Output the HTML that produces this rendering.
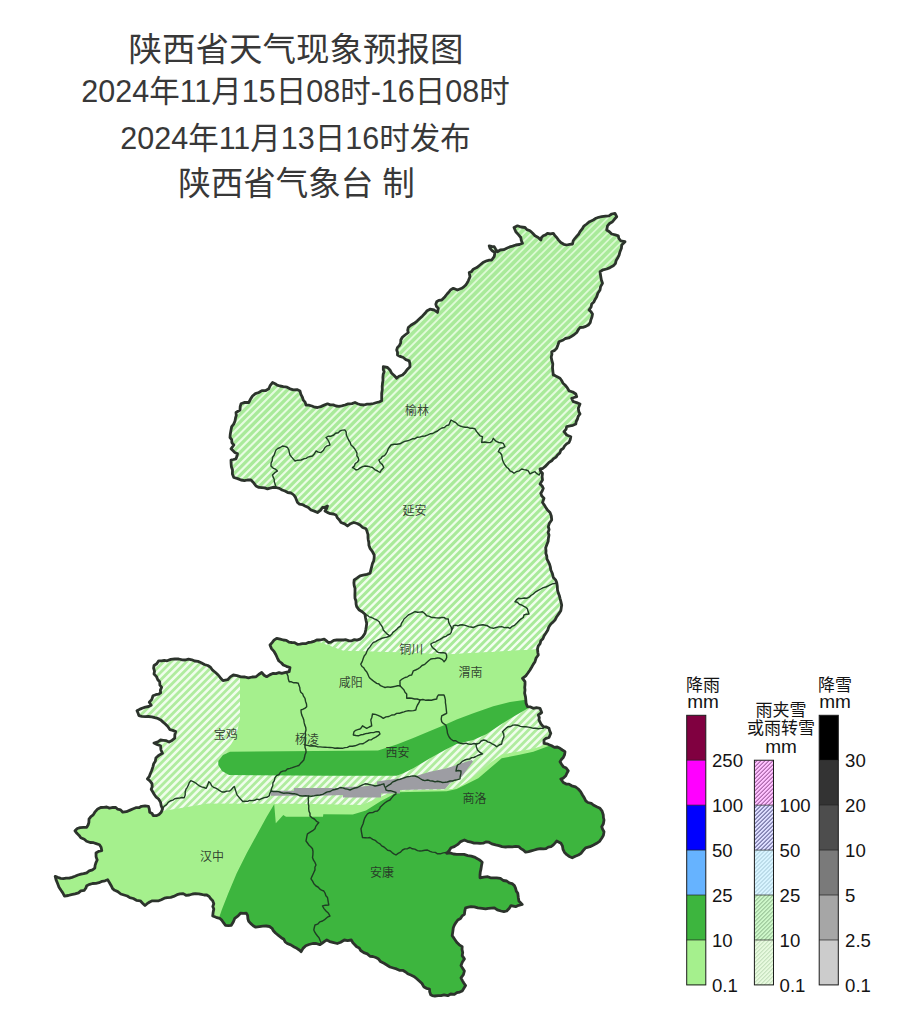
<!DOCTYPE html>
<html lang="zh"><head><meta charset="utf-8"><title>陕西省天气现象预报图</title>
<style>html,body{margin:0;padding:0;background:#fff}body{width:900px;height:1020px;overflow:hidden;font-family:"Liberation Sans","Noto Sans CJK SC",sans-serif}svg{display:block}text{font-family:"Liberation Sans","Noto Sans CJK SC",sans-serif;fill:#111}</style></head><body>
<svg width="900" height="1020" viewBox="0 0 900 1020">
<rect width="900" height="1020" fill="#fff"/>
<defs><clipPath id="prov"><path d="M408.3 327.5 L410.9 325.3 L414.2 323.3 L417.1 321.1 L420 318.3 L422.5 315.9 L425 313.3 L427.1 310.7 L430 309.2 L434.2 310 L437.5 312.5 L438.3 308.3 L436.5 306.6 L435.8 304.2 L436.7 301.7 L438.8 300.3 L441.7 300 L445 296.7 L447.1 294 L449.2 291.7 L450.8 289.7 L453.3 288.3 L457.5 290 L461.7 288.3 L464.1 286.6 L465.8 285 L467.1 283 L468.3 280.8 L470 276.7 L469.2 272.5 L471.5 271.6 L473.3 269.2 L476.8 267.6 L480 265 L482.9 262.6 L486.7 260.8 L489.3 260.1 L491.7 260 L494.2 256.7 L495 252.5 L492.2 250.7 L490 248.3 L489.2 245.8 L491.6 246.4 L494.2 246.7 L495.6 249 L497.5 251.7 L500.2 250 L503.7 249.7 L506.7 248.3 L509.7 246.9 L512.6 246.1 L515.8 245 L519.4 244.5 L522.5 243.3 L521.3 240.5 L520.8 237.5 L518.2 234.4 L515.8 231.7 L514 227.5 L517.5 225.8 L521 227 L525 227.5 L526.9 229.6 L530 230.8 L532.7 233.3 L535 235.8 L538.2 237.5 L540.8 240 L541.5 237.5 L543.3 235.8 L545.6 234.9 L547.5 233.3 L550.3 233.9 L553.3 233.3 L554.8 235.6 L556.7 237.5 L558.6 240.1 L560.8 242.5 L563.8 244.3 L566.7 245 L569.7 244.4 L572.5 244 L573.2 240.8 L575 238.3 L577 236 L578.6 234.3 L580 231.7 L582.2 228.9 L583.9 226.1 L586.7 224 L589.5 221.7 L593.3 220 L596 218.2 L598.6 217.3 L601.7 216.7 L605.6 216.1 L609 215.8 L611.7 214 L615 213.3 L616.7 216.7 L614.4 219.3 L612.5 221.7 L609.5 223.5 L607.5 225.8 L606.7 230 L609.4 231.7 L611.7 234 L615.3 234.8 L618.3 235.8 L618.8 238.4 L620.8 240.8 L625 241.7 L621.7 245 L621.4 248.3 L620 251.7 L619.1 255.1 L617.5 258.3 L616.1 260.6 L615.4 263.6 L613.3 265.8 L610 267.6 L606.7 269 L603 269.8 L600 271.7 L600.4 274.3 L600.8 276.7 L601.3 279.8 L602.5 283.3 L600.6 286.6 L600 290 L597.8 293.3 L596.7 296.7 L595.2 299.2 L593.8 302 L591.7 304 L591.1 307 L589 310 L590.9 311.6 L592.5 314 L592 316.8 L590.8 320 L590.3 322.6 L588.3 325 L585.8 326.4 L582.8 327.4 L580 327.5 L578.3 329.7 L576.7 332.5 L574 334.8 L570.8 336.7 L568.6 337.9 L565.3 338.5 L563.3 340 L559 341.7 L557.9 345 L556.7 348.3 L554.7 350.4 L551.7 351.7 L551.9 354.3 L551.2 357 L551.7 360 L552.8 363.9 L552.5 367.5 L552.8 371 L553.3 375 L554 375 L556.7 376.6 L560 378.3 L561.8 380.8 L563 383.2 L565 385 L567.2 387.6 L569 390.8 L572.8 392 L575.8 394 L576.7 396.7 L574 397.5 L571.7 398.3 L573.3 401.7 L576.6 402.6 L580 404 L578.3 408.3 L578.8 411.6 L580 414 L578.2 416.4 L577.5 419 L576.2 421.5 L575.8 424 L572.9 425.3 L570.1 425.9 L566.7 426.7 L566 429.4 L564 431.7 L566.7 435 L570.8 436.7 L570.2 439.8 L569 442.5 L566.6 443.9 L564.5 446.1 L563.3 448.3 L560.9 450 L559.9 452.9 L557.5 455 L556 457.1 L553.3 458.9 L551.7 460.8 L549.1 462.4 L546.9 464.7 L545 466.7 L542.7 468.5 L540 469 L540.8 471.6 L542.5 473.3 L542.1 476.6 L542.5 480 L540 484 L542.1 486 L543.3 488.3 L542.2 491.1 L540.8 493.3 L541.8 496.1 L544 498.3 L542.5 502.5 L544.4 505.1 L545.8 507.5 L547.5 510.1 L550 512.5 L551.3 515.9 L551.7 520 L549.4 523.2 L548.3 526.7 L549.1 529.6 L548.1 532.4 L549 535 L548.4 538.4 L548.1 541.5 L546.7 545 L545.7 547.8 L546 550.8 L545.8 553.3 L546.8 556.3 L546.9 558.9 L548.3 561.7 L549.5 564.2 L550.4 567.2 L550.8 570 L552.4 573.6 L553.3 577.5 L555.6 579.9 L556.7 582.5 L557.3 586.2 L557.5 590 L558.3 593 L559.4 595.7 L560 598.3 L560.9 601.7 L561.7 605 L561.3 607.6 L560.8 610.8 L558.9 613.6 L556.7 616.7 L555.2 619.7 L553.2 621.9 L550.8 624 L548.8 627 L547.7 630.3 L545.8 633.3 L544 635.9 L542.9 638.7 L540.8 640.8 L540.1 643.6 L538.2 646.1 L537.5 649 L537.8 652.2 L538.3 655 L536.1 658 L535 661.7 L533.2 664.4 L531.6 667.3 L530 670 L527.9 673 L525.8 675.8 L522.5 678.3 L525 681.7 L525 684.7 L524.7 687.5 L525 690 L524.6 693.2 L525.5 696.9 L525.8 700 L526.1 703.3 L527.5 706.7 L530.5 706.9 L533.3 708.3 L536.5 707.7 L540 708.3 L541.7 712.5 L538.3 715 L539.3 717.5 L539 720 L540.9 723.8 L543.3 726.7 L546.4 727 L549 728.3 L549.6 730.7 L550.8 733.3 L549 737.5 L546 738.4 L544 740 L544 743.3 L547 743.8 L549.2 744.8 L551.7 745.8 L554.4 747.4 L557.3 747 L560 748.3 L562.4 750 L565 751.7 L564.6 754.6 L563.3 757.5 L561.6 759.2 L560 761.7 L561.6 764.2 L563.3 766.7 L566.2 768.1 L568.3 770.8 L566.9 773.2 L565.8 775.8 L563.4 778.1 L560.8 779 L563.3 782.5 L566.2 784.1 L569 784.1 L571.7 785.8 L575.5 786.9 L578.3 789 L580.6 791.6 L582.5 795 L584.4 798.1 L585.8 800.8 L587.9 802.5 L591.3 803.3 L593.3 805 L596.7 806.8 L600 808.3 L602.1 811.1 L603.3 815 L603.4 817.5 L604 820 L603.4 823.8 L601.7 826.7 L602.7 829.4 L604 831.7 L603.4 835.4 L601.7 838.3 L599.5 841.4 L596.7 843.3 L593.5 845 L590 846.7 L585.6 847.8 L583.1 850.7 L581 853.3 L578.4 855 L575.3 856.2 L572.2 857.8 L569.4 856.5 L566.8 854.7 L564.4 852.2 L563 849.4 L562.5 846.2 L561 843.3 L559 842.2 L556.7 841 L555.2 842.9 L553.4 844.9 L551 846.7 L548.3 847.1 L546 848.6 L543.3 848.9 L540.5 848.6 L537.3 849.2 L534.4 850 L531.3 850.8 L528.6 851.6 L525.6 852.2 L523.3 850 L520.8 848.6 L518.9 846.7 L515.5 846.4 L512.3 846.8 L508.9 846.7 L505.7 847 L502 846.6 L498.9 845.6 L495.6 844.9 L491.8 843.9 L488.9 842.2 L485.8 842 L483.2 843.2 L480 843.3 L477 843.2 L474 843.1 L471 842.2 L467.3 841.3 L464.4 840 L460.7 841.6 L457.8 844.4 L454.3 846.6 L451 847.8 L449.1 850.7 L446.7 853.3 L450 852.9 L453.4 854 L456.7 854.4 L460.5 854.4 L464 854.4 L467.8 855.6 L471.3 856.1 L474.4 857.1 L477.8 858.9 L480 860.2 L482.2 862.2 L481.5 865.5 L481 868.9 L480.3 871.9 L480 875 L480 877.8 L483.8 877.1 L487.8 876.7 L490.5 877.8 L493.8 877.8 L496.7 877.8 L500.4 878.3 L503.3 880.5 L506.7 881 L509.2 882.9 L512.1 883.6 L514.4 885.6 L515.6 888.4 L516.3 891.1 L517.8 893.3 L518.3 897.4 L518.9 901 L522.2 904.4 L518.7 905.3 L515.6 906.7 L511 905.6 L509.3 908.3 L506.7 911 L503.9 911.6 L501 911 L497.3 909.8 L494.4 907.8 L491.4 908.1 L488.4 908.4 L485.6 908.9 L482 908.4 L477.8 907.8 L474.3 906.8 L471 906.7 L468.3 907.2 L465.6 907.8 L464.8 910.8 L464.4 914.4 L462.1 915.9 L460.5 918.5 L457.8 920 L456.1 922.3 L454.3 925.3 L453.3 927.8 L452.8 931.6 L452.2 935.6 L454.5 939 L456.7 942.2 L459.3 944.8 L462.2 946.7 L462 949.4 L462.7 952.5 L462.2 955.6 L464.4 958.9 L462.4 962 L461 965.6 L462.5 968.1 L464.4 971 L463.4 974.6 L461 977.8 L462.4 980.6 L463.8 983 L465.6 985.6 L463.9 988.3 L462.2 991 L459.8 992.1 L456.9 992.7 L454.4 994.4 L450.7 994 L447.8 995.7 L444 994.8 L441 995.6 L438.2 995.7 L434.9 996 L432.2 995.6 L430.7 994.8 L429.7 991.9 L429.5 989 L426.4 988.3 L423.7 986.7 L422 983.5 L419 980.8 L416.5 978.5 L413.8 976.4 L410.8 975 L407.7 973.7 L405.6 972 L402.7 970.3 L399.4 970.3 L396.5 968.9 L393.3 968 L390 967 L386.8 965 L384 963.3 L380.5 961.5 L378.2 958.7 L375.8 957.5 L372.8 956.5 L370 956.3 L367.3 953.9 L363.8 952.6 L360.7 950.5 L359.2 948 L356.7 946.8 L354.8 944.7 L352.9 942.8 L351.3 940 L347.6 940.6 L344.3 940 L340.7 942.2 L337.3 943.5 L332.7 942.3 L329.7 941.6 L326.8 940 L324.6 941.4 L322 943.4 L319.8 944.7 L316.2 943.5 L312.8 943.5 L309 944.5 L305.8 945.8 L303 948.4 L301.2 951.7 L299.3 950 L296.8 948.3 L294.2 947 L290.8 944.9 L287.2 943.5 L285.2 942 L283.9 939.3 L281.3 937.7 L278.4 935.4 L275.5 933 L273.4 930.7 L272 928.3 L269.5 926.5 L266.2 926 L262.8 926.2 L259.3 926.7 L255.7 927.2 L253.2 925.7 L250.6 923.4 L248.7 921.3 L247.9 918.8 L247.6 915.4 L246.3 913.2 L243.6 913.3 L240.5 913.2 L238.1 915.9 L234.8 918.3 L233.4 921.7 L231.3 925.3 L228.5 925.7 L225.5 925.3 L223.5 922.7 L222 920.4 L219.7 918.3 L216.1 917.3 L212.7 916 L213.1 912.6 L213.8 909 L212.8 906.5 L213.8 903.7 L212.7 900.8 L210.7 898.8 L209.3 896.7 L206.8 895 L204.2 895 L201.4 894.4 L198.7 893.8 L195.3 893.6 L192.6 894 L189.3 895 L186 895.3 L183.2 893.6 L180 893.8 L177.1 894.7 L173.6 896.4 L170.7 897.3 L167.2 897.7 L164.4 898.2 L161.3 899.7 L158.7 900.8 L155.4 900.8 L152.3 900.8 L149.7 902 L147.1 903.7 L145 905.5 L142.6 903.2 L140.3 900.8 L136.4 900.3 L133.3 898.5 L129.8 897.6 L127.3 896 L124 895 L120.8 894 L117.8 891.6 L114.7 890.3 L112.6 888.6 L111.2 885.7 L109.5 882.7 L107.7 879.8 L105 880.8 L102.1 881.3 L99 882.7 L96 883.3 L92.6 883.5 L89.7 884.3 L86.7 885.7 L85.9 888 L84.3 890.3 L80.8 890.9 L78.5 892.8 L75 893.8 L71.4 894.6 L68.2 895.5 L64.5 896.2 L62.8 892.9 L61 890.3 L59 887.2 L57.5 883.3 L56.1 879.9 L55.2 876.3 L57.6 877.3 L60.6 878.4 L63.3 878.7 L66.1 878.1 L69.2 878.2 L72 877.4 L75 876.3 L78 875 L81 874.2 L83.6 873.7 L86.7 872.8 L89.2 870.9 L92.5 869.8 L94.8 868.2 L95.1 865.4 L96.1 862.3 L97.2 860 L96.1 856.9 L96 853 L98.6 851.3 L101.8 850.7 L101.1 847.3 L99.5 844.8 L96.2 843.6 L93.6 842.7 L90.2 842.5 L86.6 841.2 L84.3 839.2 L80.8 837.8 L79.1 835.4 L76.9 833.3 L75 830.8 L77.3 828.5 L80.1 827.6 L83.4 827.4 L86.7 827.3 L88.1 825 L88.9 822.3 L89 819.2 L90.9 816.6 L93.2 814.9 L94.8 812.2 L97.3 809.3 L100.7 807.5 L104 807.3 L106.7 807 L109.5 808.1 L113 807.4 L115.8 807.5 L117.7 809.2 L120.6 809.9 L122.8 812.2 L126.4 811.7 L130.1 810.1 L133.3 808.7 L135.8 807.7 L139 807.7 L141.5 806.3 L145.1 805.9 L148.5 806.3 L149.3 809.1 L149.7 812.2 L152.1 813.5 L153.2 815.7 L156.3 815.7 L159 814.5 L161.2 812.3 L162.5 809 L161.2 805.8 L160.6 802.4 L158.6 799 L155.9 796.8 L154.3 794.5 L152.7 791.8 L151.2 789.2 L152.2 786.7 L152 783.6 L149.9 780.8 L147.4 778.8 L149.3 776.5 L150.2 774 L151.7 770.5 L153 766.6 L153.7 763.7 L155.3 761.2 L155.9 758 L158 756 L159.9 754.7 L162.5 753.3 L160.9 749.7 L160.6 745.8 L156.9 744.5 L154 743 L157.8 741.9 L160.6 740 L163.2 740.3 L166.3 740.7 L169 742 L172 740.4 L174.8 738.2 L174.8 734.9 L175.7 731.6 L172.8 730.4 L170 729.7 L167.8 726.5 L165.3 724 L163.1 722.1 L160.7 719.9 L157.8 718.4 L154.7 717.7 L151.7 716.8 L148.3 716.5 L145.3 716.6 L141.8 716.4 L138.9 715.6 L138.1 713.3 L137 710.8 L140 709.1 L142.7 708 L145.4 707.1 L148.6 706.5 L151.2 705.2 L149.3 702.3 L151.7 699.6 L153 695.7 L155.7 694.7 L158.5 694.2 L160.6 692.9 L160.4 690.1 L161.6 687.2 L159.9 685.1 L159.7 681.8 L157.8 679.7 L156.5 676.6 L154 674 L154.5 671.2 L153.6 668.2 L154 665.5 L156.7 663.8 L158.7 660.8 L161.6 660.9 L164.3 660.4 L167.2 660.8 L170.7 659.4 L174.8 658.9 L178.7 659 L182.3 659.8 L185.3 660 L188.5 659.1 L191.8 659.8 L194.7 661 L198 661.4 L201.2 662.7 L204.4 664.5 L207.8 665.5 L210.5 667.2 L212.6 670.2 L215.5 672.5 L218.2 675 L220.3 677.7 L223 680.6 L227.7 679.7 L230.3 676.9 L233.3 675 L237 675.7 L240.9 676.8 L245 677 L248.4 677.8 L252.2 677 L256 676.8 L258.7 674.5 L261.7 672.5 L264.1 675.2 L266.7 676.7 L269.7 674.9 L273.3 673.3 L275.9 673.6 L279.1 672.6 L281.7 673.3 L285.6 672.3 L289.2 671.7 L290 667.5 L286.4 666.3 L283.3 665 L281.5 663 L278.9 661 L277.5 658.3 L275.9 654.7 L274.2 651.7 L271.5 648.6 L270 645 L272.1 642.6 L274 640.2 L276.7 638.3 L280.2 639.2 L283.3 640 L286.3 640.3 L289 642.2 L291.7 642.5 L294.3 642.6 L297.4 644.3 L300 644.2 L302.5 643.7 L305.6 643.7 L308.3 642.5 L311.3 642.2 L313.8 641.4 L316.7 640 L320.3 640 L324.2 639.2 L326.5 640.9 L328.3 642.5 L331.1 642.2 L333.7 640.4 L336.7 640 L339.9 640 L343.3 640 L346 639.7 L349.1 640.9 L351.7 640.8 L354.4 639.6 L357 640.2 L360 639.2 L362.7 636.8 L365 633.3 L365.7 630 L366.3 626.8 L366.7 623.3 L366 620.2 L365.4 617.2 L365 614.2 L362.2 611.8 L358.9 609.7 L356.7 606.7 L356.1 604.1 L355.9 600.9 L355 598.3 L354.9 595.2 L355 591.9 L355 588.3 L354.2 585.6 L353.9 582.9 L354.2 580 L356.9 578.1 L360 575.8 L363.1 575.2 L366.9 574.4 L370 573.3 L370.8 570.2 L371.7 566.7 L372.5 563.3 L373.7 560.9 L374.2 557.6 L374.2 555 L372.3 551.3 L370 548.3 L368.9 545.3 L368.8 542.5 L368.3 540 L368 537.5 L368 534.6 L367 531.3 L366 528.8 L362.7 527.5 L360 525 L357.2 523.5 L353.8 522.5 L350.5 523.7 L347.5 526 L344.7 523.9 L341 522.5 L339.2 519.8 L337.4 517.9 L336 515 L333.4 514 L330.4 513.7 L327.3 512.4 L325 511 L326.6 508.4 L327.5 506 L325 507.3 L322.5 507.5 L320.4 510.4 L317.5 512.5 L314.4 511.1 L311 510 L308.3 507.5 L305 506 L302.3 504.6 L299.5 504.1 L297.5 502.5 L296.5 500 L295.5 497.4 L293.8 495 L291.1 493 L287.7 492.5 L285 491 L282.1 490 L279.4 488.4 L276 487.5 L273.2 487.4 L270 488.2 L267.5 488.8 L264.6 487.9 L262 487.7 L258.9 487.4 L256 486 L253.7 482.9 L251 480 L247.4 480 L244.5 480.6 L241 480 L237.7 478.6 L233.8 477.5 L232.4 474 L232.5 470 L231.4 466.8 L231.1 463.3 L231 460 L233.4 459.5 L236 458.8 L236.9 456.3 L237.5 453.8 L234.8 452.4 L233.1 450.8 L231 448.8 L233.8 445 L231.9 442.7 L231.7 439.6 L230 437.5 L230.3 433.9 L231 430 L231.7 426.6 L233.7 424.1 L235 421 L235.5 418.2 L236.3 415.3 L236 412.5 L240 410 L240.2 406.6 L241 403.8 L244.8 402.4 L248.8 402.5 L250.4 399.3 L252.5 396 L255.4 393.6 L258.8 392.5 L261.9 390.6 L265.4 390.7 L268.8 388.8 L270.3 385.3 L272.5 382.5 L275.1 383.7 L277.1 385.2 L280 386 L283.3 386.6 L287.1 387.2 L290 388.8 L293.4 389.9 L297 389.6 L300 391 L300.9 394.4 L302.5 397.5 L303.3 400.1 L305.1 402.1 L306 405 L308.7 405.2 L311.9 406 L314.8 407.2 L317.5 407.5 L320.8 406.6 L324.2 405.1 L327.5 403.8 L330.2 404.9 L333.3 404.9 L336 406 L338.9 406.4 L341.8 405.9 L345 405 L348.1 403.9 L352 403.6 L355 402.5 L357.7 403.7 L360.6 404.7 L363.8 405 L367.1 404.2 L370 404.2 L373.5 403.5 L376.7 402.5 L379.6 401.8 L381.7 400.8 L381.7 396.8 L381.7 393.3 L382.3 389.8 L382.2 386.5 L382.5 383.3 L383 380.5 L382.9 377.4 L383.2 374.3 L384.2 371.7 L383.3 369.6 L383.3 366.7 L387.5 367.5 L390.2 370.3 L391.7 373.3 L394.2 375.5 L396.7 378.3 L399 376.2 L402.5 375 L405.3 372.2 L407.5 369.2 L410 366.7 L409.9 363.6 L409.2 360.8 L405.9 359.7 L403.3 357.5 L400.1 356.4 L397.5 355 L397.5 352.2 L396.7 350 L397.5 347.4 L399.2 345.8 L400.7 342.8 L400.8 340 L402.3 337.3 L405 335 L408.3 332.5 L407.7 330.3Z"/></clipPath>
<clipPath id="h2"><path d="M100 640 L240 640 L240 718 L236.5 735 L229 748 L223 760 L400 760 L440 745 L486.7 728 L540 700 L560 735 L546.7 744.3 L533.3 748.8 L518.3 751.5 L501.7 754.5 L490 763 L478.3 773 L463 784.5 L456 788.5 L446.7 789.5 L400 790.5 L394 791 L381 796.4 L362 805 L300 803.8 L208 803.5 L163 811 L160 804.5 L100 804.5Z"/></clipPath>
<clipPath id="north"><path d="M200 200 L660 200 L660 642 L536 649.5 L447 654.5 L400 652.5 L343 650.8 L316 641 L240 600 L200 600Z"/></clipPath>
<linearGradient id="sg" gradientUnits="userSpaceOnUse" x1="0" y1="220" x2="0" y2="655"><stop offset="0" stop-color="#d9f9d0"/><stop offset="0.5" stop-color="#e8fce2"/><stop offset="1" stop-color="#f4fff1"/></linearGradient>
</defs>
<g clip-path="url(#prov)">
<rect x="40" y="200" width="620" height="810" fill="#a9ea9a"/>
<g clip-path="url(#north)"><path fill="url(#sg)" d="M198.81 200 L201.19 200 L-258.24 660 L-261.76 660ZM206.41 200 L208.79 200 L-250.64 660 L-254.16 660ZM214.01 200 L216.39 200 L-243.04 660 L-246.56 660ZM221.61 200 L223.99 200 L-235.44 660 L-238.96 660ZM229.21 200 L231.59 200 L-227.84 660 L-231.36 660ZM236.81 200 L239.19 200 L-220.24 660 L-223.76 660ZM244.41 200 L246.79 200 L-212.64 660 L-216.16 660ZM252.01 200 L254.39 200 L-205.04 660 L-208.56 660ZM259.61 200 L261.99 200 L-197.44 660 L-200.96 660ZM267.21 200 L269.59 200 L-189.84 660 L-193.36 660ZM274.81 200 L277.19 200 L-182.24 660 L-185.76 660ZM282.41 200 L284.79 200 L-174.64 660 L-178.16 660ZM290.01 200 L292.39 200 L-167.04 660 L-170.56 660ZM297.61 200 L299.99 200 L-159.44 660 L-162.96 660ZM305.21 200 L307.59 200 L-151.84 660 L-155.36 660ZM312.81 200 L315.19 200 L-144.24 660 L-147.76 660ZM320.41 200 L322.79 200 L-136.64 660 L-140.16 660ZM328.01 200 L330.39 200 L-129.04 660 L-132.56 660ZM335.61 200 L337.99 200 L-121.44 660 L-124.96 660ZM343.21 200 L345.59 200 L-113.84 660 L-117.36 660ZM350.81 200 L353.19 200 L-106.24 660 L-109.76 660ZM358.41 200 L360.79 200 L-98.64 660 L-102.16 660ZM366.01 200 L368.39 200 L-91.04 660 L-94.56 660ZM373.61 200 L375.99 200 L-83.44 660 L-86.96 660ZM381.21 200 L383.59 200 L-75.84 660 L-79.36 660ZM388.81 200 L391.19 200 L-68.24 660 L-71.76 660ZM396.41 200 L398.79 200 L-60.64 660 L-64.16 660ZM404.01 200 L406.39 200 L-53.04 660 L-56.56 660ZM411.61 200 L413.99 200 L-45.44 660 L-48.96 660ZM419.21 200 L421.59 200 L-37.84 660 L-41.36 660ZM426.81 200 L429.19 200 L-30.24 660 L-33.76 660ZM434.41 200 L436.79 200 L-22.64 660 L-26.16 660ZM442.01 200 L444.39 200 L-15.04 660 L-18.56 660ZM449.61 200 L451.99 200 L-7.44 660 L-10.96 660ZM457.21 200 L459.59 200 L0.16 660 L-3.36 660ZM464.81 200 L467.19 200 L7.76 660 L4.24 660ZM472.41 200 L474.79 200 L15.36 660 L11.84 660ZM480.01 200 L482.39 200 L22.96 660 L19.44 660ZM487.61 200 L489.99 200 L30.56 660 L27.04 660ZM495.21 200 L497.59 200 L38.16 660 L34.64 660ZM502.81 200 L505.19 200 L45.76 660 L42.24 660ZM510.41 200 L512.79 200 L53.36 660 L49.84 660ZM518.01 200 L520.39 200 L60.96 660 L57.44 660ZM525.61 200 L527.99 200 L68.56 660 L65.04 660ZM533.21 200 L535.59 200 L76.16 660 L72.64 660ZM540.81 200 L543.19 200 L83.76 660 L80.24 660ZM548.41 200 L550.79 200 L91.36 660 L87.84 660ZM556.01 200 L558.39 200 L98.96 660 L95.44 660ZM563.61 200 L565.99 200 L106.56 660 L103.04 660ZM571.21 200 L573.59 200 L114.16 660 L110.64 660ZM578.81 200 L581.19 200 L121.76 660 L118.24 660ZM586.41 200 L588.79 200 L129.36 660 L125.84 660ZM594.01 200 L596.39 200 L136.96 660 L133.44 660ZM601.61 200 L603.99 200 L144.56 660 L141.04 660ZM609.21 200 L611.59 200 L152.16 660 L148.64 660ZM616.81 200 L619.19 200 L159.76 660 L156.24 660ZM624.41 200 L626.79 200 L167.36 660 L163.84 660ZM632.01 200 L634.39 200 L174.96 660 L171.44 660ZM639.61 200 L641.99 200 L182.56 660 L179.04 660ZM647.21 200 L649.59 200 L190.16 660 L186.64 660ZM654.81 200 L657.19 200 L197.76 660 L194.24 660ZM662.41 200 L664.79 200 L205.36 660 L201.84 660ZM670.01 200 L672.39 200 L212.96 660 L209.44 660ZM677.61 200 L679.99 200 L220.56 660 L217.04 660ZM685.21 200 L687.59 200 L228.16 660 L224.64 660ZM692.81 200 L695.19 200 L235.76 660 L232.24 660ZM700.41 200 L702.79 200 L243.36 660 L239.84 660ZM708.01 200 L710.39 200 L250.96 660 L247.44 660ZM715.61 200 L717.99 200 L258.56 660 L255.04 660ZM723.21 200 L725.59 200 L266.16 660 L262.64 660ZM730.81 200 L733.19 200 L273.76 660 L270.24 660ZM738.41 200 L740.79 200 L281.36 660 L277.84 660ZM746.01 200 L748.39 200 L288.96 660 L285.44 660ZM753.61 200 L755.99 200 L296.56 660 L293.04 660ZM761.21 200 L763.59 200 L304.16 660 L300.64 660ZM768.81 200 L771.19 200 L311.76 660 L308.24 660ZM776.41 200 L778.79 200 L319.36 660 L315.84 660ZM784.01 200 L786.39 200 L326.96 660 L323.44 660ZM791.61 200 L793.99 200 L334.56 660 L331.04 660ZM799.21 200 L801.59 200 L342.16 660 L338.64 660ZM806.81 200 L809.19 200 L349.76 660 L346.24 660ZM814.41 200 L816.79 200 L357.36 660 L353.84 660ZM822.01 200 L824.39 200 L364.96 660 L361.44 660ZM829.61 200 L831.99 200 L372.56 660 L369.04 660ZM837.21 200 L839.59 200 L380.16 660 L376.64 660ZM844.81 200 L847.19 200 L387.76 660 L384.24 660ZM852.41 200 L854.79 200 L395.36 660 L391.84 660ZM860.01 200 L862.39 200 L402.96 660 L399.44 660ZM867.61 200 L869.99 200 L410.56 660 L407.04 660ZM875.21 200 L877.59 200 L418.16 660 L414.64 660ZM882.81 200 L885.19 200 L425.76 660 L422.24 660ZM890.41 200 L892.79 200 L433.36 660 L429.84 660ZM898.01 200 L900.39 200 L440.96 660 L437.44 660ZM905.61 200 L907.99 200 L448.56 660 L445.04 660ZM913.21 200 L915.59 200 L456.16 660 L452.64 660ZM920.81 200 L923.19 200 L463.76 660 L460.24 660ZM928.41 200 L930.79 200 L471.36 660 L467.84 660ZM936.01 200 L938.39 200 L478.96 660 L475.44 660ZM943.61 200 L945.99 200 L486.56 660 L483.04 660ZM951.21 200 L953.59 200 L494.16 660 L490.64 660ZM958.81 200 L961.19 200 L501.76 660 L498.24 660ZM966.41 200 L968.79 200 L509.36 660 L505.84 660ZM974.01 200 L976.39 200 L516.96 660 L513.44 660ZM981.61 200 L983.99 200 L524.56 660 L521.04 660ZM989.21 200 L991.59 200 L532.16 660 L528.64 660ZM996.81 200 L999.19 200 L539.76 660 L536.24 660ZM1004.41 200 L1006.79 200 L547.36 660 L543.84 660ZM1012.01 200 L1014.39 200 L554.96 660 L551.44 660ZM1019.61 200 L1021.99 200 L562.56 660 L559.04 660ZM1027.21 200 L1029.59 200 L570.16 660 L566.64 660ZM1034.81 200 L1037.19 200 L577.76 660 L574.24 660ZM1042.41 200 L1044.79 200 L585.36 660 L581.84 660ZM1050.01 200 L1052.39 200 L592.96 660 L589.44 660ZM1057.61 200 L1059.99 200 L600.56 660 L597.04 660ZM1065.21 200 L1067.59 200 L608.16 660 L604.64 660ZM1072.81 200 L1075.19 200 L615.76 660 L612.24 660ZM1080.41 200 L1082.79 200 L623.36 660 L619.84 660ZM1088.01 200 L1090.39 200 L630.96 660 L627.44 660ZM1095.61 200 L1097.99 200 L638.56 660 L635.04 660ZM1103.21 200 L1105.59 200 L646.16 660 L642.64 660ZM1110.81 200 L1113.19 200 L653.76 660 L650.24 660ZM1118.41 200 L1120.79 200 L661.36 660 L657.84 660ZM1126.01 200 L1128.39 200 L668.96 660 L665.44 660ZM1133.61 200 L1135.99 200 L676.56 660 L673.04 660ZM1141.21 200 L1143.59 200 L684.16 660 L680.64 660ZM1148.81 200 L1151.19 200 L691.76 660 L688.24 660ZM1156.41 200 L1158.79 200 L699.36 660 L695.84 660ZM1164.01 200 L1166.39 200 L706.96 660 L703.44 660ZM1171.61 200 L1173.99 200 L714.56 660 L711.04 660ZM1179.21 200 L1181.59 200 L722.16 660 L718.64 660ZM1186.81 200 L1189.19 200 L729.76 660 L726.24 660ZM1194.41 200 L1196.79 200 L737.36 660 L733.84 660Z"/></g>
<path fill="#a5f08d" d="M240 600 L316 641 L343 650.8 L400 652.5 L447 654.5 L536 649.5 L660 642 L660 1010 L40 1010 L40 790 L160 790 L163 811 L208 803.5 L220 803.5 L220 718 L240 718 L240 600Z"/>
<g clip-path="url(#h2)"><rect x="40" y="600" width="620" height="300" fill="#b0ec9f"/><path fill="#f0fdec" d="M68.2 630 L71.8 630 L-128.2 830 L-131.8 830ZM75.8 630 L79.4 630 L-120.6 830 L-124.2 830ZM83.4 630 L87 630 L-113 830 L-116.6 830ZM91 630 L94.6 630 L-105.4 830 L-109 830ZM98.6 630 L102.2 630 L-97.8 830 L-101.4 830ZM106.2 630 L109.8 630 L-90.2 830 L-93.8 830ZM113.8 630 L117.4 630 L-82.6 830 L-86.2 830ZM121.4 630 L125 630 L-75 830 L-78.6 830ZM129 630 L132.6 630 L-67.4 830 L-71 830ZM136.6 630 L140.2 630 L-59.8 830 L-63.4 830ZM144.2 630 L147.8 630 L-52.2 830 L-55.8 830ZM151.8 630 L155.4 630 L-44.6 830 L-48.2 830ZM159.4 630 L163 630 L-37 830 L-40.6 830ZM167 630 L170.6 630 L-29.4 830 L-33 830ZM174.6 630 L178.2 630 L-21.8 830 L-25.4 830ZM182.2 630 L185.8 630 L-14.2 830 L-17.8 830ZM189.8 630 L193.4 630 L-6.6 830 L-10.2 830ZM197.4 630 L201 630 L1 830 L-2.6 830ZM205 630 L208.6 630 L8.6 830 L5 830ZM212.6 630 L216.2 630 L16.2 830 L12.6 830ZM220.2 630 L223.8 630 L23.8 830 L20.2 830ZM227.8 630 L231.4 630 L31.4 830 L27.8 830ZM235.4 630 L239 630 L39 830 L35.4 830ZM243 630 L246.6 630 L46.6 830 L43 830ZM250.6 630 L254.2 630 L54.2 830 L50.6 830ZM258.2 630 L261.8 630 L61.8 830 L58.2 830ZM265.8 630 L269.4 630 L69.4 830 L65.8 830ZM273.4 630 L277 630 L77 830 L73.4 830ZM281 630 L284.6 630 L84.6 830 L81 830ZM288.6 630 L292.2 630 L92.2 830 L88.6 830ZM296.2 630 L299.8 630 L99.8 830 L96.2 830ZM303.8 630 L307.4 630 L107.4 830 L103.8 830ZM311.4 630 L315 630 L115 830 L111.4 830ZM319 630 L322.6 630 L122.6 830 L119 830ZM326.6 630 L330.2 630 L130.2 830 L126.6 830ZM334.2 630 L337.8 630 L137.8 830 L134.2 830ZM341.8 630 L345.4 630 L145.4 830 L141.8 830ZM349.4 630 L353 630 L153 830 L149.4 830ZM357 630 L360.6 630 L160.6 830 L157 830ZM364.6 630 L368.2 630 L168.2 830 L164.6 830ZM372.2 630 L375.8 630 L175.8 830 L172.2 830ZM379.8 630 L383.4 630 L183.4 830 L179.8 830ZM387.4 630 L391 630 L191 830 L187.4 830ZM395 630 L398.6 630 L198.6 830 L195 830ZM402.6 630 L406.2 630 L206.2 830 L202.6 830ZM410.2 630 L413.8 630 L213.8 830 L210.2 830ZM417.8 630 L421.4 630 L221.4 830 L217.8 830ZM425.4 630 L429 630 L229 830 L225.4 830ZM433 630 L436.6 630 L236.6 830 L233 830ZM440.6 630 L444.2 630 L244.2 830 L240.6 830ZM448.2 630 L451.8 630 L251.8 830 L248.2 830ZM455.8 630 L459.4 630 L259.4 830 L255.8 830ZM463.4 630 L467 630 L267 830 L263.4 830ZM471 630 L474.6 630 L274.6 830 L271 830ZM478.6 630 L482.2 630 L282.2 830 L278.6 830ZM486.2 630 L489.8 630 L289.8 830 L286.2 830ZM493.8 630 L497.4 630 L297.4 830 L293.8 830ZM501.4 630 L505 630 L305 830 L301.4 830ZM509 630 L512.6 630 L312.6 830 L309 830ZM516.6 630 L520.2 630 L320.2 830 L316.6 830ZM524.2 630 L527.8 630 L327.8 830 L324.2 830ZM531.8 630 L535.4 630 L335.4 830 L331.8 830ZM539.4 630 L543 630 L343 830 L339.4 830ZM547 630 L550.6 630 L350.6 830 L347 830ZM554.6 630 L558.2 630 L358.2 830 L354.6 830ZM562.2 630 L565.8 630 L365.8 830 L362.2 830ZM569.8 630 L573.4 630 L373.4 830 L369.8 830ZM577.4 630 L581 630 L381 830 L377.4 830ZM585 630 L588.6 630 L388.6 830 L385 830ZM592.6 630 L596.2 630 L396.2 830 L392.6 830ZM600.2 630 L603.8 630 L403.8 830 L400.2 830ZM607.8 630 L611.4 630 L411.4 830 L407.8 830ZM615.4 630 L619 630 L419 830 L415.4 830ZM623 630 L626.6 630 L426.6 830 L423 830ZM630.6 630 L634.2 630 L434.2 830 L430.6 830ZM638.2 630 L641.8 630 L441.8 830 L438.2 830ZM645.8 630 L649.4 630 L449.4 830 L445.8 830ZM653.4 630 L657 630 L457 830 L453.4 830ZM661 630 L664.6 630 L464.6 830 L461 830ZM668.6 630 L672.2 630 L472.2 830 L468.6 830ZM676.2 630 L679.8 630 L479.8 830 L476.2 830ZM683.8 630 L687.4 630 L487.4 830 L483.8 830ZM691.4 630 L695 630 L495 830 L491.4 830ZM699 630 L702.6 630 L502.6 830 L499 830ZM706.6 630 L710.2 630 L510.2 830 L506.6 830ZM714.2 630 L717.8 630 L517.8 830 L514.2 830ZM721.8 630 L725.4 630 L525.4 830 L521.8 830ZM729.4 630 L733 630 L533 830 L529.4 830ZM737 630 L740.6 630 L540.6 830 L537 830ZM744.6 630 L748.2 630 L548.2 830 L544.6 830ZM752.2 630 L755.8 630 L555.8 830 L552.2 830ZM759.8 630 L763.4 630 L563.4 830 L559.8 830ZM767.4 630 L771 630 L571 830 L567.4 830ZM775 630 L778.6 630 L578.6 830 L575 830ZM782.6 630 L786.2 630 L586.2 830 L582.6 830ZM790.2 630 L793.8 630 L593.8 830 L590.2 830ZM797.8 630 L801.4 630 L601.4 830 L597.8 830ZM805.4 630 L809 630 L609 830 L605.4 830ZM813 630 L816.6 630 L616.6 830 L613 830ZM820.6 630 L824.2 630 L624.2 830 L620.6 830ZM828.2 630 L831.8 630 L631.8 830 L628.2 830ZM835.8 630 L839.4 630 L639.4 830 L635.8 830ZM843.4 630 L847 630 L647 830 L643.4 830ZM851 630 L854.6 630 L654.6 830 L651 830ZM858.6 630 L862.2 630 L662.2 830 L658.6 830ZM866.2 630 L869.8 630 L669.8 830 L666.2 830Z"/></g>
<path fill="#3db53e" d="M230 751.7 L378 750.6 L396.7 744.5 L413.3 738 L430 731 L443.3 725.5 L456.7 719.5 L473.3 713.3 L493.3 706.3 L510 702 L524 700 L535 699 L535 705 L526.7 709 L513.3 716.7 L500 725 L486.7 734 L473.3 740 L456.7 744 L446.7 749 L430 758.3 L413.3 768.3 L403.3 773.3 L396.7 775.8 L330 775.8 L229 775 L222 771 L218.3 765 L218.3 761 L223 755Z"/>
<path fill="#3db53e" d="M274.2 804.2 L275.8 823.3 L283.3 815 L286 816.7 L323 816.7 L323.3 814.3 L352.8 814.4 L366 810.6 L381 801 L390 796.3 L396.7 792.3 L446.7 791.3 L456.7 789 L478.3 778.3 L490 768.3 L501.7 758.3 L518.3 755 L533.3 751.7 L546.7 746.7 L570 738 L640 760 L640 1010 L200 1010 L205 960 L220 915 L221.7 910 L228.3 893.3 L236.7 873.3 L246.7 853.3 L256.7 835 L266.7 816.7Z"/>
<path fill="#9d9da3" d="M270.6 790.8 L294 790.8 L294 788 L343 788 L343 787 L362 786.5 L377 785 L377 781.5 L400 778.3 L416.7 775.8 L430 771.7 L446.7 768.3 L456.7 765 L471.7 760 L473 761.5 L461.7 776.7 L450 783.3 L445 789 L400 790 L400 793.6 L381 793.6 L381 797.4 L343 797.4 L343 795 L328 795.5 L270.6 795.8Z"/>
</g>
<g fill="none" stroke="#1f3d24" stroke-width="1.4" stroke-linejoin="round" stroke-linecap="round">
<path d="M276 487.5 L275 483.8 L274.3 481.6 L274.2 479.3 L273.1 477.1 L272.5 475 L274.8 472.7 L277.5 471 L275.3 469.1 L273 468.1 L271 466 L271.1 463 L272.2 460.6 L272.5 457.5 L274.2 455 L275 452.5 L276 450 L277.8 448.5 L280.2 447.5 L282.5 446 L285 446.4 L287.5 447.5 L288.8 449.8 L289.3 452.6 L290 455 L291.7 457.1 L293.4 459.1 L295 461 L297.8 460.2 L301.2 460 L303.8 458.8 L306.1 458.4 L308 457.2 L310.1 456.5 L312.5 456 L314.5 453.7 L316 451 L318.3 452.1 L321 452.5 L323.5 450.2 L325 447.5 L327.1 445.8 L330 445 L329.1 442.3 L327.8 439.8 L326 437.5 L328.5 436.2 L331.2 436.2 L333.8 435 L335.5 433.3 L338.3 432.7 L340 431 L342.3 430.1 L345 430 L346.2 432.2 L346.3 435 L347.5 437.5 L348.6 440 L350.2 442.4 L351 445 L353 446.8 L354.6 448.7 L356 451 L357 453.1 L356.9 455.8 L358.3 457.8 L358.8 460 L357.5 462 L355.3 463.5 L354.3 466.1 L352.5 467.5 L354.3 468.4 L356 470 L358.3 469.3 L360.2 467.9 L362.6 466.6 L365 466 L367.6 466.2 L370 466.9 L372.5 467.5 L374.7 469.6 L377.6 471 L380 472.5 L381.5 469.9 L383.8 467.5 L382.4 464.6 L380.3 462.8 L378.8 460 L380.9 458.5 L382.3 456.5 L384.5 455.6 L386 453.8 L387.1 451.7 L388.2 448.9 L389.5 447 L391 445 L394.1 444.3 L396.9 444.3 L400 443.8 L402.5 442.4 L404.7 441.4 L407.7 440.8 L410 439.9 L412.5 438.8 L415 438.7 L417.3 437.2 L419.8 437.1 L422.4 436.2 L425 436 L427.4 435.1 L430.1 433.8 L432.8 433.5 L435.1 432.2 L437.5 431 L439.4 429.5 L441.9 428 L444.5 427.5 L446.3 425.7 L448.8 425 L449.9 422.4 L451 420 L453.5 421.5 L455.8 422.6 L457.8 424.8 L460 426 L462.5 426.7 L465.1 427.3 L467.6 427.2 L470.1 428.3 L472.6 428.2 L475 428.8 L476.4 431.4 L478.2 433.5 L480 435.8 L482.5 436.7 L482 439.6 L481.7 442.5 L484.7 442 L487.5 442.5 L489.9 442.6 L491.7 441.7 L493.3 438.3 L494.8 440.1 L496.7 441.7 L498.9 442.5 L501.3 442.7 L503.3 443.3 L505 446.7 L502.5 448 L500 448.3 L498.3 451.7 L500.4 453 L501.7 455 L502.1 457.4 L502.5 460 L503.6 462.6 L505 465 L506.7 467.2 L508.4 468.5 L510 470.8 L512.2 471.9 L514 473.3 L516.3 471.7 L519.4 470.8 L521.7 469 L524.1 469.6 L526.2 470 L528.3 470.8 L530 474 L532.3 472.6 L535 471.7 L536.9 473.7 L539 475 L541 472"/>
<path d="M365 614.2 L367.3 615.3 L369.2 616.8 L371.7 617.5 L374.2 618.9 L376.9 620 L379.2 621.7 L380.2 624 L381.6 625.6 L382.7 627.8 L383.3 630 L385.2 632 L387.6 634.4 L390 635.8 L391.8 634.2 L392.9 632.4 L395 630.8 L396.8 629.3 L398.6 627.3 L400.8 625.8 L401.4 623.3 L402.9 621.1 L404 619 L406.2 617 L408.3 615 L410.6 613.9 L412.7 612.8 L415 611.7 L417.7 612.2 L420.1 612.1 L422.5 611.7 L424.7 613.5 L426.7 615.8 L428.8 616.1 L431 617.2 L433.3 617.5 L436.1 617.9 L439.1 618 L441.7 617.5 L443.9 617.4 L446 618.9 L448.3 619 L448.6 622.1 L450 625 L451.3 627.4 L451.7 630 L452.8 628.1 L453.3 625.8 L455.4 625.1 L457.9 625.8 L460 625 L462.2 624.8 L464.3 625.1 L466.7 625.8 L468.7 626.6 L471.1 627 L473.3 627.5 L475.8 626.3 L478.2 625.4 L480.8 625 L483 624.8 L485.2 625.2 L487.5 625.8 L490.3 627.6 L493.3 628.3 L496.2 627.5 L498.8 626.9 L501.7 626.7 L504.5 627.6 L507.5 627.4 L510 628.3 L512 626.4 L514.6 625.3 L516.7 623.3 L518.6 621.3 L520.8 619.1 L523.3 617.5 L524 615 L526.5 614.2 L529 614 L528.1 611.6 L527.5 609 L525.9 607.3 L523.5 606.2 L521.7 605 L519.4 604.3 L517.3 602.3 L515 601.7 L516.4 599.9 L518.3 598.3 L521.3 598.6 L524.1 598 L526.7 598.3 L529.2 597.2 L530.9 595.5 L533.3 594 L535.7 591.8 L538.2 590.4 L540.8 589 L543.3 587.6 L545.8 587 L548.3 585.8 L550.8 584.6 L553 583.7 L555.8 583.3"/>
<path d="M451.7 630 L451.2 632.3 L450 634 L447.7 635 L446.1 636.3 L443.6 637 L441.7 638.3 L439.6 639.6 L437.4 640.6 L435.7 641.8 L433.3 642.5 L430.8 644 L431.6 646.3 L433.3 648.3 L435.2 649.6 L436.4 651.1 L438.3 652.5 L440.9 652.8 L443.4 652.7 L445.8 653.3 L446.6 655.2 L446.7 657.5 L445.8 659.7 L444 661.7 L442.4 659.6 L440 658.3 L437.7 657.9 L435.2 658.5 L433.3 658.6 L430.8 659 L428.6 660.7 L426.7 662.5 L424.8 664.3 L422 665.5 L420 667.5 L417.9 668.9 L415.6 670 L413.3 670.8 L412.6 672.7 L411.7 675 L409.5 675.4 L407.5 676.8 L405 677.5 L402.5 678.8 L400 680.8 L400 683.1 L400 685.8"/>
<path d="M162.5 809 L164.1 806.4 L166.6 804.6 L168.2 802.4 L170.2 801 L172.8 800.1 L174.8 798.7 L177.2 798.2 L179.6 798.1 L181.7 797.5 L184.2 797.7 L185.2 795 L185.2 791.8 L186 789.2 L187.3 787.3 L188.5 784.9 L189.3 782.6 L190.8 780.7 L193.2 781.6 L195.4 782.8 L197.5 784.5 L199.4 785.9 L201.5 786.9 L204 787.5 L206 788.3 L207.1 786.3 L208 783.9 L208.8 781.7 L210.5 783.2 L211.6 785.7 L213.5 787.3 L215.8 788.2 L218 789.4 L219.7 790.7 L222 792 L224.4 792 L226.8 791.1 L229.6 791 L231.2 789.8 L232.6 788.1 L234.3 786.4 L235.2 789.3 L236.1 792.1 L237 794.9 L238.9 797.1 L240.7 799.2 L242.8 801.5 L245 801.3 L247.7 801.4 L249.6 800.4 L252.2 800.6 L254.6 800.3 L256.9 799.1 L259.4 799.7 L261.7 798.7 L264.2 797.6 L266.8 797.3 L269.2 795.8 L269.8 793.5 L271 791 L273.5 791.5 L276 791.5 L278.5 791.6 L281 792.5 L283.9 793.3 L287 792.9 L289.5 793.3 L292.5 793.8 L295 793.8 L297.5 794.5 L299.8 795.8 L302.5 796 L305.7 795.7 L308.8 796 L311.5 796.2 L314.3 795.8 L317.2 795.3 L320 795 L322.8 794.4 L325.1 793 L327.4 791.9 L330.2 791.5 L332.5 790 L335 789.5 L337.7 788.8 L340 787.5 L342.8 787.9 L344.9 788.7 L347.4 789.1 L350 790 L352.5 788.8 L354.8 788 L357.5 787.5 L360 786.2 L362.6 784.8 L365 783.8 L367.5 784 L369.9 784.8 L372.4 785.1 L375 786 L377.8 785.5 L380.8 784.7 L383.8 783.8 L384.4 786 L385.5 788 L386 790 L388.5 790.8 L391.1 790.8 L393.5 791.6 L396 792.5"/>
<path d="M386 787 L388.3 785.4 L390.5 784.2 L392.4 782.1 L395 781 L397.5 779.8 L400.1 779.4 L402.6 778.4 L405 777.5 L407.4 776.7 L410.1 776.4 L412.6 775.9 L415 776 L417.8 777 L420 778.5 L422.5 780 L424.8 780.6 L427.7 780 L429.8 780.7 L432.5 781 L435.1 781.9 L437.5 781.3 L440 781.7 L442.5 782.5 L444.9 782.3 L447.3 782 L450.1 781 L452.5 781 L454.9 780.2 L457.5 779.6 L460 778.8 L460.2 776.4 L460.9 773.4 L461 771 L458.4 770.5 L456 771 L456.6 768 L457.5 765 L460.2 763.5 L462.2 761.4 L465 760 L467.2 759.2 L469.5 759.1 L471.6 757.6 L473.8 757.5 L475.9 756.5 L478 755.4 L480.4 754.5 L482.5 753.8 L479.7 752.2 L477.5 750 L476.4 746.9 L476 743.8"/>
<path d="M308.8 796 L308.2 798.3 L308.5 800.8 L308.2 803.3 L308.8 806 L308.7 808.6 L309 811.3 L310 813.4 L310 816 L312 817.8 L314.4 819 L316.5 821.3 L318.8 822.5 L317.3 824.3 L315.8 826.4 L315 828.8 L312.7 830.7 L310.2 832.1 L307.5 833.8 L306.9 836.1 L306.4 838.8 L306 841 L307.5 843 L309.1 845.3 L311 847 L312.5 848.8 L313 851.5 L312.9 854.8 L312.5 857.5 L313.5 860.2 L315 862.4 L316 865 L314.9 867.2 L315 869.9 L313.8 872.5 L312.8 874.7 L311.9 876.6 L311 878.8 L312.6 881.1 L313.9 883.8 L316 886 L318 887 L319.6 888.8 L321.5 890.1 L323.8 891 L325 893 L325.9 895.7 L327.5 897.5 L327.9 899.8 L328.3 902.4 L328.8 905 L325.4 905.2 L322.5 906 L324 908.6 L326 911 L328.5 913.3 L330 916 L327.4 917.2 L325 919.3 L322.5 921 L319.9 921.8 L317.6 924.2 L315 925 L314.3 927.5 L313.8 930 L314.8 932.2 L316 934 L317.5 936 L319 937.8 L320 940.3 L321 942.5"/>
<path d="M396 793.8 L393.8 795.3 L391.9 797.6 L390 800 L387.4 801.1 L384.7 803 L382.5 805 L380.4 806.9 L379.4 809.1 L377.5 811 L375 811.4 L372.7 812.6 L369.7 812.7 L367.5 813.8 L366 815.9 L364.6 818.4 L363.8 821 L363.1 823.7 L362.1 826 L361 828.8 L361.4 831.6 L362 834.8 L362.5 837.5 L365 837.7 L367.7 837.9 L370 837.5 L372.7 839.3 L375.2 840.3 L377.5 842.5 L380 843.9 L381.7 845.9 L384 847 L386 848.8 L387.6 850.3 L390.1 850.8 L392.1 852.6 L393.9 853.8 L396 855 L398.1 853.4 L400.6 852.1 L402.5 850 L404.8 848.9 L407.5 848.7 L410 847.5 L412.3 848.8 L414.8 849.1 L417.5 850.6 L420 851 L422.3 850.7 L424.9 850.3 L427.5 850 L430 851.4 L432.3 852.1 L435.3 852.4 L437.5 853.8 L440.3 853.8 L443.2 852.9 L446 852.5"/>
<path d="M400 685.8 L402.1 687.9 L404 690 L405 692.2 L406.7 694 L406.7 696.2 L406.7 698.3 L409.2 698 L411.7 698.3 L414.6 699 L417.2 699 L420 700 L422.9 699.5 L425.3 700.2 L428.3 700 L431.4 700.2 L434 699.5 L436.7 699 L437.1 697.1 L438.3 695 L441 695 L444 695 L444.8 697.3 L445.4 699.9 L445.4 702.6 L445.8 705 L446.1 707.8 L446.4 710.6 L446.7 713.3 L444.3 714.5 L441.7 715.8 L441.2 719 L441.7 721.7 L443.6 723.7 L445.8 725 L446.5 727.6 L447.1 730.3 L447.5 733.3 L448.3 735.3 L449.3 737.2 L450.8 739 L453.2 740.7 L455.9 740.8 L458.3 742.5 L460.7 743.3 L463.2 743.8 L465.9 743.2 L468.3 744 L471 744.3 L473.8 743.5 L476.7 744 L479.4 743.1 L481.1 741 L483.8 740 L485.8 740.4 L487.7 741.9 L490 742.5 L492.2 743.9 L494.7 745.1 L496.7 746.7 L499.1 745 L501.7 744 L502.1 741.5 L502.9 739.1 L504 736.7 L503.7 733.9 L502.5 731.7 L504.4 729.8 L506.1 728.2 L508.3 726.7 L510.7 726.5 L512.9 725.1 L515 725 L517.7 725.2 L520.4 726.4 L523.3 726.7 L525.7 726.8 L528.4 727.1 L530.9 727.6 L533.3 728.3 L535.8 728.2 L538.3 728.8 L541 728.4 L543.3 728.3"/>
<path d="M390 635.8 L387.3 637 L384.6 637.6 L381.7 638.3 L379.6 639.4 L377.5 640.4 L375.6 641.6 L373.3 642.5 L371.5 644.6 L369.8 647.1 L367.9 649.3 L366.7 651.7 L365.9 653.9 L364.2 656 L363.3 658.3 L362.3 661.4 L360.8 664.2 L362 666.5 L363.8 667.8 L365 670 L366.8 672 L367.8 674.1 L368.7 676.3 L370 678.3 L372.3 680.1 L374.3 681.7 L376.7 683.3 L379 684 L380.5 685.7 L382.9 686.7 L385 687.5 L387.6 686.9 L390.5 687.2 L393.3 686.7 L395.5 686.3 L397.8 685.7 L400 685.8"/>
<path d="M420 700 L419 702.7 L417.5 705 L416.4 707.6 L415.8 710 L413.5 710.6 L411 710.9 L408.3 710.8 L406.2 711.1 L404 711.9 L401.7 712.5 L399.3 713.3 L396.6 713.4 L394.4 714.9 L391.7 715 L388.9 716.5 L385.9 716.9 L383.3 718.3 L380.8 716.7 L378 715.4 L375.3 714.4 L372.5 714 L371.9 717.2 L370.8 720 L371.3 723 L371.7 725.8 L369.2 727 L366.7 728.3 L364.6 727.2 L362.5 725.8 L361.5 727.4 L360 729 L357.7 729.6 L355.7 730.3 L354 731.7 L353.3 735 L355.9 735.5 L358.3 735.8 L360.8 734.8 L363.1 734.5 L365.7 733.6 L368.3 733.3 L370.9 732.6 L373.6 732.6 L376.3 731.7 L379 731.7 L380 734 L378 735.6 L375.8 737.1 L373.3 738.3 L371.4 739.8 L369 739.9 L366.8 741.3 L365 742.5 L362.8 743.8 L359.8 743.9 L357.6 744.8 L355 745.8 L352.4 746.3 L349.8 746.2 L347.4 747.4 L344.9 747.6 L342.4 748.3 L340 748.3 L337.4 748 L334.9 748.2 L332.5 747.6 L330 747.5 L327.4 747.4 L325.1 747.2 L322.4 747.1 L320.1 746.9 L317.4 746.7 L315 746 L312.5 745.7 L310 746 L307.7 745.4 L305 745"/>
<path d="M289.2 671.7 L286.7 673.3 L288 676.1 L288.3 679.1 L289.2 681.7 L291.4 681.8 L293.8 682.8 L296.1 682.7 L298.3 683.3 L299 685.6 L299.8 687.5 L300 690 L300.8 692.2 L302.8 694.1 L303.5 696.2 L305 698.3 L305.5 701.2 L306.5 703.9 L306.7 706.7 L305.1 708.1 L303.2 709.2 L301 710 L301.2 712.6 L301.8 715.1 L303 717.7 L303.8 720 L304.1 722.4 L304.8 725.1 L305.7 727.2 L306 730 L305.3 732.5 L305.7 735 L305 737.5 L305.3 740.1 L305 742.3 L305 745 L305 747.4 L305.9 749.8 L306 752.5 L305 754.8 L304.5 757.3 L303.8 760 L302 761.9 L300.4 763.6 L298.8 765.5 L296.6 766.2 L294.5 766.8 L292.3 767.7 L290 768.4 L287.3 769 L285.6 770.7 L282.8 771.1 L280.6 772.2 L279 774.5 L276.5 775.6 L274.9 777.9 L274.3 780.6 L272.9 782.9 L272.8 785.7 L271.6 788.3 L271 791"/>
</g>
<path d="M408.3 327.5 L410.9 325.3 L414.2 323.3 L417.1 321.1 L420 318.3 L422.5 315.9 L425 313.3 L427.1 310.7 L430 309.2 L434.2 310 L437.5 312.5 L438.3 308.3 L436.5 306.6 L435.8 304.2 L436.7 301.7 L438.8 300.3 L441.7 300 L445 296.7 L447.1 294 L449.2 291.7 L450.8 289.7 L453.3 288.3 L457.5 290 L461.7 288.3 L464.1 286.6 L465.8 285 L467.1 283 L468.3 280.8 L470 276.7 L469.2 272.5 L471.5 271.6 L473.3 269.2 L476.8 267.6 L480 265 L482.9 262.6 L486.7 260.8 L489.3 260.1 L491.7 260 L494.2 256.7 L495 252.5 L492.2 250.7 L490 248.3 L489.2 245.8 L491.6 246.4 L494.2 246.7 L495.6 249 L497.5 251.7 L500.2 250 L503.7 249.7 L506.7 248.3 L509.7 246.9 L512.6 246.1 L515.8 245 L519.4 244.5 L522.5 243.3 L521.3 240.5 L520.8 237.5 L518.2 234.4 L515.8 231.7 L514 227.5 L517.5 225.8 L521 227 L525 227.5 L526.9 229.6 L530 230.8 L532.7 233.3 L535 235.8 L538.2 237.5 L540.8 240 L541.5 237.5 L543.3 235.8 L545.6 234.9 L547.5 233.3 L550.3 233.9 L553.3 233.3 L554.8 235.6 L556.7 237.5 L558.6 240.1 L560.8 242.5 L563.8 244.3 L566.7 245 L569.7 244.4 L572.5 244 L573.2 240.8 L575 238.3 L577 236 L578.6 234.3 L580 231.7 L582.2 228.9 L583.9 226.1 L586.7 224 L589.5 221.7 L593.3 220 L596 218.2 L598.6 217.3 L601.7 216.7 L605.6 216.1 L609 215.8 L611.7 214 L615 213.3 L616.7 216.7 L614.4 219.3 L612.5 221.7 L609.5 223.5 L607.5 225.8 L606.7 230 L609.4 231.7 L611.7 234 L615.3 234.8 L618.3 235.8 L618.8 238.4 L620.8 240.8 L625 241.7 L621.7 245 L621.4 248.3 L620 251.7 L619.1 255.1 L617.5 258.3 L616.1 260.6 L615.4 263.6 L613.3 265.8 L610 267.6 L606.7 269 L603 269.8 L600 271.7 L600.4 274.3 L600.8 276.7 L601.3 279.8 L602.5 283.3 L600.6 286.6 L600 290 L597.8 293.3 L596.7 296.7 L595.2 299.2 L593.8 302 L591.7 304 L591.1 307 L589 310 L590.9 311.6 L592.5 314 L592 316.8 L590.8 320 L590.3 322.6 L588.3 325 L585.8 326.4 L582.8 327.4 L580 327.5 L578.3 329.7 L576.7 332.5 L574 334.8 L570.8 336.7 L568.6 337.9 L565.3 338.5 L563.3 340 L559 341.7 L557.9 345 L556.7 348.3 L554.7 350.4 L551.7 351.7 L551.9 354.3 L551.2 357 L551.7 360 L552.8 363.9 L552.5 367.5 L552.8 371 L553.3 375 L554 375 L556.7 376.6 L560 378.3 L561.8 380.8 L563 383.2 L565 385 L567.2 387.6 L569 390.8 L572.8 392 L575.8 394 L576.7 396.7 L574 397.5 L571.7 398.3 L573.3 401.7 L576.6 402.6 L580 404 L578.3 408.3 L578.8 411.6 L580 414 L578.2 416.4 L577.5 419 L576.2 421.5 L575.8 424 L572.9 425.3 L570.1 425.9 L566.7 426.7 L566 429.4 L564 431.7 L566.7 435 L570.8 436.7 L570.2 439.8 L569 442.5 L566.6 443.9 L564.5 446.1 L563.3 448.3 L560.9 450 L559.9 452.9 L557.5 455 L556 457.1 L553.3 458.9 L551.7 460.8 L549.1 462.4 L546.9 464.7 L545 466.7 L542.7 468.5 L540 469 L540.8 471.6 L542.5 473.3 L542.1 476.6 L542.5 480 L540 484 L542.1 486 L543.3 488.3 L542.2 491.1 L540.8 493.3 L541.8 496.1 L544 498.3 L542.5 502.5 L544.4 505.1 L545.8 507.5 L547.5 510.1 L550 512.5 L551.3 515.9 L551.7 520 L549.4 523.2 L548.3 526.7 L549.1 529.6 L548.1 532.4 L549 535 L548.4 538.4 L548.1 541.5 L546.7 545 L545.7 547.8 L546 550.8 L545.8 553.3 L546.8 556.3 L546.9 558.9 L548.3 561.7 L549.5 564.2 L550.4 567.2 L550.8 570 L552.4 573.6 L553.3 577.5 L555.6 579.9 L556.7 582.5 L557.3 586.2 L557.5 590 L558.3 593 L559.4 595.7 L560 598.3 L560.9 601.7 L561.7 605 L561.3 607.6 L560.8 610.8 L558.9 613.6 L556.7 616.7 L555.2 619.7 L553.2 621.9 L550.8 624 L548.8 627 L547.7 630.3 L545.8 633.3 L544 635.9 L542.9 638.7 L540.8 640.8 L540.1 643.6 L538.2 646.1 L537.5 649 L537.8 652.2 L538.3 655 L536.1 658 L535 661.7 L533.2 664.4 L531.6 667.3 L530 670 L527.9 673 L525.8 675.8 L522.5 678.3 L525 681.7 L525 684.7 L524.7 687.5 L525 690 L524.6 693.2 L525.5 696.9 L525.8 700 L526.1 703.3 L527.5 706.7 L530.5 706.9 L533.3 708.3 L536.5 707.7 L540 708.3 L541.7 712.5 L538.3 715 L539.3 717.5 L539 720 L540.9 723.8 L543.3 726.7 L546.4 727 L549 728.3 L549.6 730.7 L550.8 733.3 L549 737.5 L546 738.4 L544 740 L544 743.3 L547 743.8 L549.2 744.8 L551.7 745.8 L554.4 747.4 L557.3 747 L560 748.3 L562.4 750 L565 751.7 L564.6 754.6 L563.3 757.5 L561.6 759.2 L560 761.7 L561.6 764.2 L563.3 766.7 L566.2 768.1 L568.3 770.8 L566.9 773.2 L565.8 775.8 L563.4 778.1 L560.8 779 L563.3 782.5 L566.2 784.1 L569 784.1 L571.7 785.8 L575.5 786.9 L578.3 789 L580.6 791.6 L582.5 795 L584.4 798.1 L585.8 800.8 L587.9 802.5 L591.3 803.3 L593.3 805 L596.7 806.8 L600 808.3 L602.1 811.1 L603.3 815 L603.4 817.5 L604 820 L603.4 823.8 L601.7 826.7 L602.7 829.4 L604 831.7 L603.4 835.4 L601.7 838.3 L599.5 841.4 L596.7 843.3 L593.5 845 L590 846.7 L585.6 847.8 L583.1 850.7 L581 853.3 L578.4 855 L575.3 856.2 L572.2 857.8 L569.4 856.5 L566.8 854.7 L564.4 852.2 L563 849.4 L562.5 846.2 L561 843.3 L559 842.2 L556.7 841 L555.2 842.9 L553.4 844.9 L551 846.7 L548.3 847.1 L546 848.6 L543.3 848.9 L540.5 848.6 L537.3 849.2 L534.4 850 L531.3 850.8 L528.6 851.6 L525.6 852.2 L523.3 850 L520.8 848.6 L518.9 846.7 L515.5 846.4 L512.3 846.8 L508.9 846.7 L505.7 847 L502 846.6 L498.9 845.6 L495.6 844.9 L491.8 843.9 L488.9 842.2 L485.8 842 L483.2 843.2 L480 843.3 L477 843.2 L474 843.1 L471 842.2 L467.3 841.3 L464.4 840 L460.7 841.6 L457.8 844.4 L454.3 846.6 L451 847.8 L449.1 850.7 L446.7 853.3 L450 852.9 L453.4 854 L456.7 854.4 L460.5 854.4 L464 854.4 L467.8 855.6 L471.3 856.1 L474.4 857.1 L477.8 858.9 L480 860.2 L482.2 862.2 L481.5 865.5 L481 868.9 L480.3 871.9 L480 875 L480 877.8 L483.8 877.1 L487.8 876.7 L490.5 877.8 L493.8 877.8 L496.7 877.8 L500.4 878.3 L503.3 880.5 L506.7 881 L509.2 882.9 L512.1 883.6 L514.4 885.6 L515.6 888.4 L516.3 891.1 L517.8 893.3 L518.3 897.4 L518.9 901 L522.2 904.4 L518.7 905.3 L515.6 906.7 L511 905.6 L509.3 908.3 L506.7 911 L503.9 911.6 L501 911 L497.3 909.8 L494.4 907.8 L491.4 908.1 L488.4 908.4 L485.6 908.9 L482 908.4 L477.8 907.8 L474.3 906.8 L471 906.7 L468.3 907.2 L465.6 907.8 L464.8 910.8 L464.4 914.4 L462.1 915.9 L460.5 918.5 L457.8 920 L456.1 922.3 L454.3 925.3 L453.3 927.8 L452.8 931.6 L452.2 935.6 L454.5 939 L456.7 942.2 L459.3 944.8 L462.2 946.7 L462 949.4 L462.7 952.5 L462.2 955.6 L464.4 958.9 L462.4 962 L461 965.6 L462.5 968.1 L464.4 971 L463.4 974.6 L461 977.8 L462.4 980.6 L463.8 983 L465.6 985.6 L463.9 988.3 L462.2 991 L459.8 992.1 L456.9 992.7 L454.4 994.4 L450.7 994 L447.8 995.7 L444 994.8 L441 995.6 L438.2 995.7 L434.9 996 L432.2 995.6 L430.7 994.8 L429.7 991.9 L429.5 989 L426.4 988.3 L423.7 986.7 L422 983.5 L419 980.8 L416.5 978.5 L413.8 976.4 L410.8 975 L407.7 973.7 L405.6 972 L402.7 970.3 L399.4 970.3 L396.5 968.9 L393.3 968 L390 967 L386.8 965 L384 963.3 L380.5 961.5 L378.2 958.7 L375.8 957.5 L372.8 956.5 L370 956.3 L367.3 953.9 L363.8 952.6 L360.7 950.5 L359.2 948 L356.7 946.8 L354.8 944.7 L352.9 942.8 L351.3 940 L347.6 940.6 L344.3 940 L340.7 942.2 L337.3 943.5 L332.7 942.3 L329.7 941.6 L326.8 940 L324.6 941.4 L322 943.4 L319.8 944.7 L316.2 943.5 L312.8 943.5 L309 944.5 L305.8 945.8 L303 948.4 L301.2 951.7 L299.3 950 L296.8 948.3 L294.2 947 L290.8 944.9 L287.2 943.5 L285.2 942 L283.9 939.3 L281.3 937.7 L278.4 935.4 L275.5 933 L273.4 930.7 L272 928.3 L269.5 926.5 L266.2 926 L262.8 926.2 L259.3 926.7 L255.7 927.2 L253.2 925.7 L250.6 923.4 L248.7 921.3 L247.9 918.8 L247.6 915.4 L246.3 913.2 L243.6 913.3 L240.5 913.2 L238.1 915.9 L234.8 918.3 L233.4 921.7 L231.3 925.3 L228.5 925.7 L225.5 925.3 L223.5 922.7 L222 920.4 L219.7 918.3 L216.1 917.3 L212.7 916 L213.1 912.6 L213.8 909 L212.8 906.5 L213.8 903.7 L212.7 900.8 L210.7 898.8 L209.3 896.7 L206.8 895 L204.2 895 L201.4 894.4 L198.7 893.8 L195.3 893.6 L192.6 894 L189.3 895 L186 895.3 L183.2 893.6 L180 893.8 L177.1 894.7 L173.6 896.4 L170.7 897.3 L167.2 897.7 L164.4 898.2 L161.3 899.7 L158.7 900.8 L155.4 900.8 L152.3 900.8 L149.7 902 L147.1 903.7 L145 905.5 L142.6 903.2 L140.3 900.8 L136.4 900.3 L133.3 898.5 L129.8 897.6 L127.3 896 L124 895 L120.8 894 L117.8 891.6 L114.7 890.3 L112.6 888.6 L111.2 885.7 L109.5 882.7 L107.7 879.8 L105 880.8 L102.1 881.3 L99 882.7 L96 883.3 L92.6 883.5 L89.7 884.3 L86.7 885.7 L85.9 888 L84.3 890.3 L80.8 890.9 L78.5 892.8 L75 893.8 L71.4 894.6 L68.2 895.5 L64.5 896.2 L62.8 892.9 L61 890.3 L59 887.2 L57.5 883.3 L56.1 879.9 L55.2 876.3 L57.6 877.3 L60.6 878.4 L63.3 878.7 L66.1 878.1 L69.2 878.2 L72 877.4 L75 876.3 L78 875 L81 874.2 L83.6 873.7 L86.7 872.8 L89.2 870.9 L92.5 869.8 L94.8 868.2 L95.1 865.4 L96.1 862.3 L97.2 860 L96.1 856.9 L96 853 L98.6 851.3 L101.8 850.7 L101.1 847.3 L99.5 844.8 L96.2 843.6 L93.6 842.7 L90.2 842.5 L86.6 841.2 L84.3 839.2 L80.8 837.8 L79.1 835.4 L76.9 833.3 L75 830.8 L77.3 828.5 L80.1 827.6 L83.4 827.4 L86.7 827.3 L88.1 825 L88.9 822.3 L89 819.2 L90.9 816.6 L93.2 814.9 L94.8 812.2 L97.3 809.3 L100.7 807.5 L104 807.3 L106.7 807 L109.5 808.1 L113 807.4 L115.8 807.5 L117.7 809.2 L120.6 809.9 L122.8 812.2 L126.4 811.7 L130.1 810.1 L133.3 808.7 L135.8 807.7 L139 807.7 L141.5 806.3 L145.1 805.9 L148.5 806.3 L149.3 809.1 L149.7 812.2 L152.1 813.5 L153.2 815.7 L156.3 815.7 L159 814.5 L161.2 812.3 L162.5 809 L161.2 805.8 L160.6 802.4 L158.6 799 L155.9 796.8 L154.3 794.5 L152.7 791.8 L151.2 789.2 L152.2 786.7 L152 783.6 L149.9 780.8 L147.4 778.8 L149.3 776.5 L150.2 774 L151.7 770.5 L153 766.6 L153.7 763.7 L155.3 761.2 L155.9 758 L158 756 L159.9 754.7 L162.5 753.3 L160.9 749.7 L160.6 745.8 L156.9 744.5 L154 743 L157.8 741.9 L160.6 740 L163.2 740.3 L166.3 740.7 L169 742 L172 740.4 L174.8 738.2 L174.8 734.9 L175.7 731.6 L172.8 730.4 L170 729.7 L167.8 726.5 L165.3 724 L163.1 722.1 L160.7 719.9 L157.8 718.4 L154.7 717.7 L151.7 716.8 L148.3 716.5 L145.3 716.6 L141.8 716.4 L138.9 715.6 L138.1 713.3 L137 710.8 L140 709.1 L142.7 708 L145.4 707.1 L148.6 706.5 L151.2 705.2 L149.3 702.3 L151.7 699.6 L153 695.7 L155.7 694.7 L158.5 694.2 L160.6 692.9 L160.4 690.1 L161.6 687.2 L159.9 685.1 L159.7 681.8 L157.8 679.7 L156.5 676.6 L154 674 L154.5 671.2 L153.6 668.2 L154 665.5 L156.7 663.8 L158.7 660.8 L161.6 660.9 L164.3 660.4 L167.2 660.8 L170.7 659.4 L174.8 658.9 L178.7 659 L182.3 659.8 L185.3 660 L188.5 659.1 L191.8 659.8 L194.7 661 L198 661.4 L201.2 662.7 L204.4 664.5 L207.8 665.5 L210.5 667.2 L212.6 670.2 L215.5 672.5 L218.2 675 L220.3 677.7 L223 680.6 L227.7 679.7 L230.3 676.9 L233.3 675 L237 675.7 L240.9 676.8 L245 677 L248.4 677.8 L252.2 677 L256 676.8 L258.7 674.5 L261.7 672.5 L264.1 675.2 L266.7 676.7 L269.7 674.9 L273.3 673.3 L275.9 673.6 L279.1 672.6 L281.7 673.3 L285.6 672.3 L289.2 671.7 L290 667.5 L286.4 666.3 L283.3 665 L281.5 663 L278.9 661 L277.5 658.3 L275.9 654.7 L274.2 651.7 L271.5 648.6 L270 645 L272.1 642.6 L274 640.2 L276.7 638.3 L280.2 639.2 L283.3 640 L286.3 640.3 L289 642.2 L291.7 642.5 L294.3 642.6 L297.4 644.3 L300 644.2 L302.5 643.7 L305.6 643.7 L308.3 642.5 L311.3 642.2 L313.8 641.4 L316.7 640 L320.3 640 L324.2 639.2 L326.5 640.9 L328.3 642.5 L331.1 642.2 L333.7 640.4 L336.7 640 L339.9 640 L343.3 640 L346 639.7 L349.1 640.9 L351.7 640.8 L354.4 639.6 L357 640.2 L360 639.2 L362.7 636.8 L365 633.3 L365.7 630 L366.3 626.8 L366.7 623.3 L366 620.2 L365.4 617.2 L365 614.2 L362.2 611.8 L358.9 609.7 L356.7 606.7 L356.1 604.1 L355.9 600.9 L355 598.3 L354.9 595.2 L355 591.9 L355 588.3 L354.2 585.6 L353.9 582.9 L354.2 580 L356.9 578.1 L360 575.8 L363.1 575.2 L366.9 574.4 L370 573.3 L370.8 570.2 L371.7 566.7 L372.5 563.3 L373.7 560.9 L374.2 557.6 L374.2 555 L372.3 551.3 L370 548.3 L368.9 545.3 L368.8 542.5 L368.3 540 L368 537.5 L368 534.6 L367 531.3 L366 528.8 L362.7 527.5 L360 525 L357.2 523.5 L353.8 522.5 L350.5 523.7 L347.5 526 L344.7 523.9 L341 522.5 L339.2 519.8 L337.4 517.9 L336 515 L333.4 514 L330.4 513.7 L327.3 512.4 L325 511 L326.6 508.4 L327.5 506 L325 507.3 L322.5 507.5 L320.4 510.4 L317.5 512.5 L314.4 511.1 L311 510 L308.3 507.5 L305 506 L302.3 504.6 L299.5 504.1 L297.5 502.5 L296.5 500 L295.5 497.4 L293.8 495 L291.1 493 L287.7 492.5 L285 491 L282.1 490 L279.4 488.4 L276 487.5 L273.2 487.4 L270 488.2 L267.5 488.8 L264.6 487.9 L262 487.7 L258.9 487.4 L256 486 L253.7 482.9 L251 480 L247.4 480 L244.5 480.6 L241 480 L237.7 478.6 L233.8 477.5 L232.4 474 L232.5 470 L231.4 466.8 L231.1 463.3 L231 460 L233.4 459.5 L236 458.8 L236.9 456.3 L237.5 453.8 L234.8 452.4 L233.1 450.8 L231 448.8 L233.8 445 L231.9 442.7 L231.7 439.6 L230 437.5 L230.3 433.9 L231 430 L231.7 426.6 L233.7 424.1 L235 421 L235.5 418.2 L236.3 415.3 L236 412.5 L240 410 L240.2 406.6 L241 403.8 L244.8 402.4 L248.8 402.5 L250.4 399.3 L252.5 396 L255.4 393.6 L258.8 392.5 L261.9 390.6 L265.4 390.7 L268.8 388.8 L270.3 385.3 L272.5 382.5 L275.1 383.7 L277.1 385.2 L280 386 L283.3 386.6 L287.1 387.2 L290 388.8 L293.4 389.9 L297 389.6 L300 391 L300.9 394.4 L302.5 397.5 L303.3 400.1 L305.1 402.1 L306 405 L308.7 405.2 L311.9 406 L314.8 407.2 L317.5 407.5 L320.8 406.6 L324.2 405.1 L327.5 403.8 L330.2 404.9 L333.3 404.9 L336 406 L338.9 406.4 L341.8 405.9 L345 405 L348.1 403.9 L352 403.6 L355 402.5 L357.7 403.7 L360.6 404.7 L363.8 405 L367.1 404.2 L370 404.2 L373.5 403.5 L376.7 402.5 L379.6 401.8 L381.7 400.8 L381.7 396.8 L381.7 393.3 L382.3 389.8 L382.2 386.5 L382.5 383.3 L383 380.5 L382.9 377.4 L383.2 374.3 L384.2 371.7 L383.3 369.6 L383.3 366.7 L387.5 367.5 L390.2 370.3 L391.7 373.3 L394.2 375.5 L396.7 378.3 L399 376.2 L402.5 375 L405.3 372.2 L407.5 369.2 L410 366.7 L409.9 363.6 L409.2 360.8 L405.9 359.7 L403.3 357.5 L400.1 356.4 L397.5 355 L397.5 352.2 L396.7 350 L397.5 347.4 L399.2 345.8 L400.7 342.8 L400.8 340 L402.3 337.3 L405 335 L408.3 332.5 L407.7 330.3Z" fill="none" stroke="#2c332c" stroke-width="2.8" stroke-linejoin="round"/>
<rect x="686.7" y="715.30" width="19.1" height="45.23" fill="#800040"/>
<rect x="686.7" y="760.23" width="19.1" height="45.23" fill="#ff00ff"/>
<rect x="686.7" y="805.17" width="19.1" height="45.23" fill="#0000ff"/>
<rect x="686.7" y="850.10" width="19.1" height="45.23" fill="#66b3ff"/>
<rect x="686.7" y="895.03" width="19.1" height="45.23" fill="#3db53e"/>
<rect x="686.7" y="939.97" width="19.1" height="45.23" fill="#a5f08d"/>
<rect x="819.2" y="715.30" width="19.1" height="45.23" fill="#000000"/>
<rect x="819.2" y="760.23" width="19.1" height="45.23" fill="#333333"/>
<rect x="819.2" y="805.17" width="19.1" height="45.23" fill="#4d4d4d"/>
<rect x="819.2" y="850.10" width="19.1" height="45.23" fill="#7a7a7a"/>
<rect x="819.2" y="895.03" width="19.1" height="45.23" fill="#a6a6a6"/>
<rect x="819.2" y="939.97" width="19.1" height="45.23" fill="#cccccc"/>
<defs><clipPath id="lc0"><rect x="754.4" y="760.23" width="19.1" height="44.93"/></clipPath></defs>
<rect x="754.4" y="760.23" width="19.1" height="45.23" fill="#ffc2ff"/>
<path clip-path="url(#lc0)" d="M749.40 760.23L704.47 805.17M753.40 760.23L708.47 805.17M757.40 760.23L712.47 805.17M761.40 760.23L716.47 805.17M765.40 760.23L720.47 805.17M769.40 760.23L724.47 805.17M773.40 760.23L728.47 805.17M777.40 760.23L732.47 805.17M781.40 760.23L736.47 805.17M785.40 760.23L740.47 805.17M789.40 760.23L744.47 805.17M793.40 760.23L748.47 805.17M797.40 760.23L752.47 805.17M801.40 760.23L756.47 805.17M805.40 760.23L760.47 805.17M809.40 760.23L764.47 805.17M813.40 760.23L768.47 805.17M817.40 760.23L772.47 805.17M821.40 760.23L776.47 805.17" stroke="#6a256a" stroke-width="0.85" fill="none"/>
<defs><clipPath id="lc1"><rect x="754.4" y="805.17" width="19.1" height="44.93"/></clipPath></defs>
<rect x="754.4" y="805.17" width="19.1" height="45.23" fill="#dedeff"/>
<path clip-path="url(#lc1)" d="M749.40 805.17L704.47 850.10M753.40 805.17L708.47 850.10M757.40 805.17L712.47 850.10M761.40 805.17L716.47 850.10M765.40 805.17L720.47 850.10M769.40 805.17L724.47 850.10M773.40 805.17L728.47 850.10M777.40 805.17L732.47 850.10M781.40 805.17L736.47 850.10M785.40 805.17L740.47 850.10M789.40 805.17L744.47 850.10M793.40 805.17L748.47 850.10M797.40 805.17L752.47 850.10M801.40 805.17L756.47 850.10M805.40 805.17L760.47 850.10M809.40 805.17L764.47 850.10M813.40 805.17L768.47 850.10M817.40 805.17L772.47 850.10M821.40 805.17L776.47 850.10" stroke="#20205c" stroke-width="0.85" fill="none"/>
<defs><clipPath id="lc2"><rect x="754.4" y="850.10" width="19.1" height="44.93"/></clipPath></defs>
<rect x="754.4" y="850.10" width="19.1" height="45.23" fill="#d8f4ff"/>
<path clip-path="url(#lc2)" d="M749.40 850.10L704.47 895.03M753.40 850.10L708.47 895.03M757.40 850.10L712.47 895.03M761.40 850.10L716.47 895.03M765.40 850.10L720.47 895.03M769.40 850.10L724.47 895.03M773.40 850.10L728.47 895.03M777.40 850.10L732.47 895.03M781.40 850.10L736.47 895.03M785.40 850.10L740.47 895.03M789.40 850.10L744.47 895.03M793.40 850.10L748.47 895.03M797.40 850.10L752.47 895.03M801.40 850.10L756.47 895.03M805.40 850.10L760.47 895.03M809.40 850.10L764.47 895.03M813.40 850.10L768.47 895.03M817.40 850.10L772.47 895.03M821.40 850.10L776.47 895.03" stroke="#98bccc" stroke-width="0.85" fill="none"/>
<defs><clipPath id="lc3"><rect x="754.4" y="895.03" width="19.1" height="44.93"/></clipPath></defs>
<rect x="754.4" y="895.03" width="19.1" height="45.23" fill="#cdf7c9"/>
<path clip-path="url(#lc3)" d="M749.40 895.03L704.47 939.97M753.40 895.03L708.47 939.97M757.40 895.03L712.47 939.97M761.40 895.03L716.47 939.97M765.40 895.03L720.47 939.97M769.40 895.03L724.47 939.97M773.40 895.03L728.47 939.97M777.40 895.03L732.47 939.97M781.40 895.03L736.47 939.97M785.40 895.03L740.47 939.97M789.40 895.03L744.47 939.97M793.40 895.03L748.47 939.97M797.40 895.03L752.47 939.97M801.40 895.03L756.47 939.97M805.40 895.03L760.47 939.97M809.40 895.03L764.47 939.97M813.40 895.03L768.47 939.97M817.40 895.03L772.47 939.97M821.40 895.03L776.47 939.97" stroke="#78a078" stroke-width="0.85" fill="none"/>
<defs><clipPath id="lc4"><rect x="754.4" y="939.97" width="19.1" height="44.93"/></clipPath></defs>
<rect x="754.4" y="939.97" width="19.1" height="45.23" fill="#e7f9de"/>
<path clip-path="url(#lc4)" d="M749.40 939.97L704.47 984.90M753.40 939.97L708.47 984.90M757.40 939.97L712.47 984.90M761.40 939.97L716.47 984.90M765.40 939.97L720.47 984.90M769.40 939.97L724.47 984.90M773.40 939.97L728.47 984.90M777.40 939.97L732.47 984.90M781.40 939.97L736.47 984.90M785.40 939.97L740.47 984.90M789.40 939.97L744.47 984.90M793.40 939.97L748.47 984.90M797.40 939.97L752.47 984.90M801.40 939.97L756.47 984.90M805.40 939.97L760.47 984.90M809.40 939.97L764.47 984.90M813.40 939.97L768.47 984.90M817.40 939.97L772.47 984.90M821.40 939.97L776.47 984.90" stroke="#aed0a6" stroke-width="0.85" fill="none"/>
<rect x="686.7" y="715.30" width="19.1" height="269.60" fill="none" stroke="#1c1c1c" stroke-width="1"/>
<path d="M686.7 760.23h19.1M686.7 805.17h19.1M686.7 850.10h19.1M686.7 895.03h19.1M686.7 939.97h19.1" stroke="#1c1c1c" stroke-width="0.9" opacity="0.75"/>
<rect x="754.4" y="760.23" width="19.1" height="224.67" fill="none" stroke="#1c1c1c" stroke-width="1"/>
<path d="M754.4 805.17h19.1M754.4 850.10h19.1M754.4 895.03h19.1M754.4 939.97h19.1" stroke="#1c1c1c" stroke-width="0.9" opacity="0.75"/>
<rect x="819.2" y="715.30" width="19.1" height="269.60" fill="none" stroke="#1c1c1c" stroke-width="1"/>
<path d="M819.2 760.23h19.1M819.2 805.17h19.1M819.2 850.10h19.1M819.2 895.03h19.1M819.2 939.97h19.1" stroke="#1c1c1c" stroke-width="0.9" opacity="0.75"/>
<g stroke="none" font-family="&quot;Liberation Sans&quot;, &quot;Noto Sans CJK SC&quot;, sans-serif" font-size="12">
<g fill="#383838">
<text x="296" y="60.5" font-size="33.5" text-anchor="middle" style="fill:#383838">陕西省天气现象预报图</text>
<text x="295.5" y="101.7" font-size="30.5" text-anchor="middle" style="fill:#383838">2024年11月15日08时-16日08时</text>
<text x="295.5" y="149" font-size="30.5" text-anchor="middle" style="fill:#383838">2024年11月13日16时发布</text>
<text x="296.5" y="194.5" font-size="32.5" text-anchor="middle" style="fill:#383838">陕西省气象台 制</text>
</g>
<g fill="#263026" fill-opacity="0.9">
<text x="416.9" y="414.9" text-anchor="middle" style="fill:#263026">榆林</text>
<text x="414.5" y="515.2" text-anchor="middle" style="fill:#263026">延安</text>
<text x="411.2" y="654.1" text-anchor="middle" style="fill:#263026">铜川</text>
<text x="350.8" y="686.6" text-anchor="middle" style="fill:#263026">咸阳</text>
<text x="470.4" y="677" text-anchor="middle" style="fill:#263026">渭南</text>
<text x="225.8" y="738.5" text-anchor="middle" style="fill:#263026">宝鸡</text>
<text x="307" y="744.1" text-anchor="middle" style="fill:#263026">杨凌</text>
<text x="397.5" y="756.6" text-anchor="middle" style="fill:#263026">西安</text>
<text x="474.6" y="802.8" text-anchor="middle" style="fill:#263026">商洛</text>
<text x="212" y="860.8" text-anchor="middle" style="fill:#263026">汉中</text>
<text x="381.9" y="877" text-anchor="middle" style="fill:#263026">安康</text>
</g>
<g fill="#141414">
<text x="703" y="690.5" font-size="17" text-anchor="middle" style="fill:#141414">降雨</text><text x="703" y="708.2" font-size="19" text-anchor="middle" style="fill:#141414">mm</text>
<text x="781" y="715.5" font-size="17" text-anchor="middle" style="fill:#141414">雨夹雪</text><text x="781" y="734.3" font-size="17" text-anchor="middle" style="fill:#141414">或雨转雪</text><text x="781" y="753.2" font-size="19" text-anchor="middle" style="fill:#141414">mm</text>
<text x="835" y="690.5" font-size="17" text-anchor="middle" style="fill:#141414">降雪</text><text x="835" y="708.2" font-size="19" text-anchor="middle" style="fill:#141414">mm</text>
<text x="712" y="767.1" font-size="18.6" style="fill:#141414">250</text>
<text x="712" y="812.1" font-size="18.6" style="fill:#141414">100</text>
<text x="712" y="857.0" font-size="18.6" style="fill:#141414">50</text>
<text x="712" y="901.9" font-size="18.6" style="fill:#141414">25</text>
<text x="712" y="946.8" font-size="18.6" style="fill:#141414">10</text>
<text x="712" y="991.8" font-size="18.6" style="fill:#141414">0.1</text>
<text x="779.6" y="812.1" font-size="18.6" style="fill:#141414">100</text>
<text x="779.6" y="857.0" font-size="18.6" style="fill:#141414">50</text>
<text x="779.6" y="901.9" font-size="18.6" style="fill:#141414">25</text>
<text x="779.6" y="946.8" font-size="18.6" style="fill:#141414">10</text>
<text x="779.6" y="991.8" font-size="18.6" style="fill:#141414">0.1</text>
<text x="845.1" y="767.1" font-size="18.6" style="fill:#141414">30</text>
<text x="845.1" y="812.1" font-size="18.6" style="fill:#141414">20</text>
<text x="845.1" y="857.0" font-size="18.6" style="fill:#141414">10</text>
<text x="845.1" y="901.9" font-size="18.6" style="fill:#141414">5</text>
<text x="845.1" y="946.8" font-size="18.6" style="fill:#141414">2.5</text>
<text x="845.1" y="991.8" font-size="18.6" style="fill:#141414">0.1</text>
</g>
</g>
</svg>
</body></html>
